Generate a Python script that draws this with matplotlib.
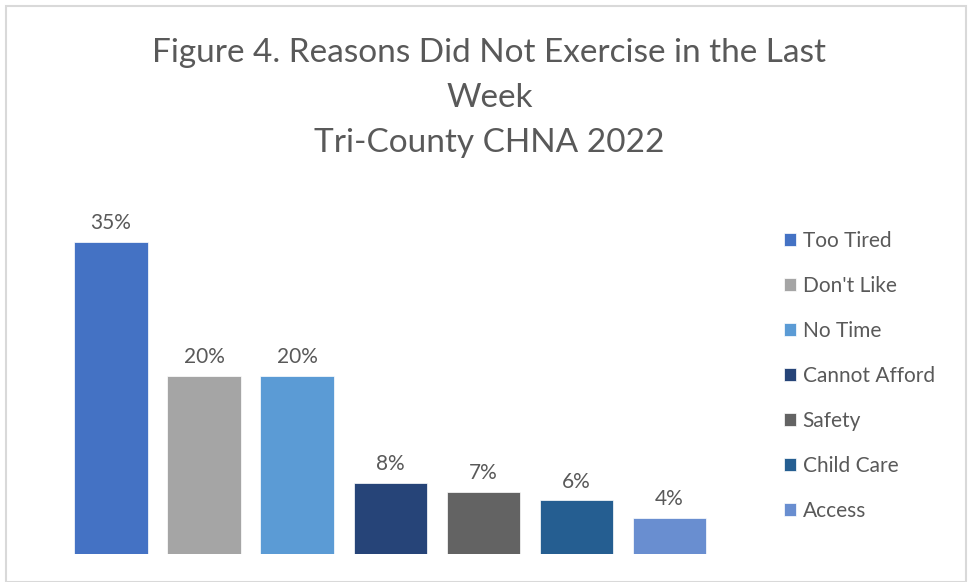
import matplotlib.pyplot as plt
from matplotlib.patches import Rectangle

plt.rcParams['font.family'] = ['Lato', 'DejaVu Sans']

# Survey results
reasons = ['Too Tired', "Don't Like", 'No Time', 'Cannot Afford', 'Safety', 'Child Care', 'Access']
percents = [35, 20, 20, 8, 7, 6, 4]
colors = ['#4472C4', '#A5A5A5', '#5B9BD5', '#264478', '#636363', '#255E91', '#698ED0']
text_color = '#595959'

fig = plt.figure(figsize=(9.69, 5.82), dpi=100)
fig.patches.append(Rectangle((0.006, 0.0), 0.991, 0.99, transform=fig.transFigure,
                             fill=False, edgecolor='#D9D9D9', linewidth=1.5))

ax = fig.add_axes([0.0666, 0.0481, 0.6724, 0.6134])
x = range(len(reasons))
bars = ax.bar(x, percents, width=0.79, color=colors, edgecolor='white', linewidth=0.5)
for xi, v in zip(x, percents):
    ax.text(xi, v + 1.0, f'{v}%', ha='center', va='bottom', fontsize=15, color=text_color)

ax.set_xlim(-0.5, len(reasons) - 0.5)
ax.set_ylim(0, 40)
ax.axis('off')

fig.text(0.505, 0.8316, 'Figure 4. Reasons Did Not Exercise in the Last\nWeek\nTri-County CHNA 2022',
         ha='center', va='center', fontsize=24, color=text_color, linespacing=1.63)

leg = ax.legend(bars, reasons, loc='upper left', bbox_to_anchor=(0.809, 0.603),
                bbox_transform=fig.transFigure, frameon=False, fontsize=15,
                labelcolor=text_color, handlelength=0.6, handleheight=0.6,
                handletextpad=0.3, labelspacing=1.2, borderpad=0, borderaxespad=0)

fig.savefig('out.png', dpi=100)
